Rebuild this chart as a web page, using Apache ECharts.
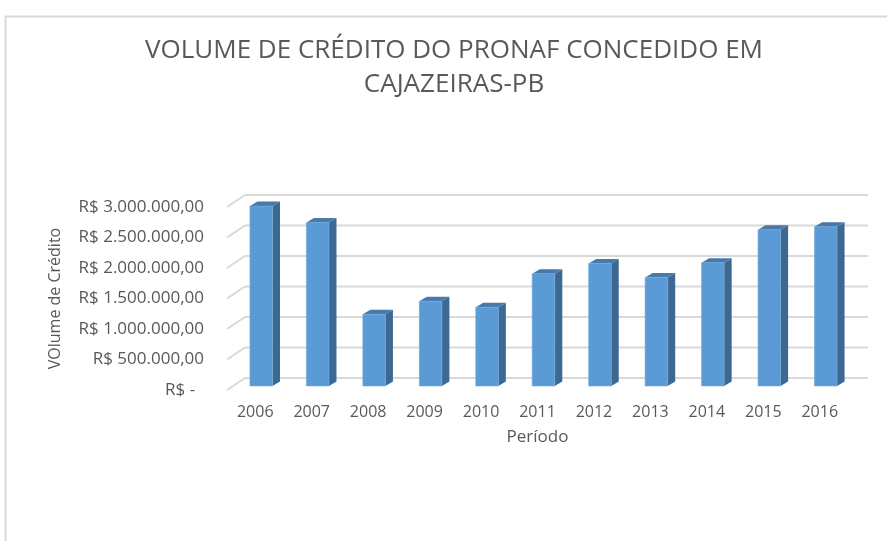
<!DOCTYPE html>
<html>
<head>
<meta charset="utf-8">
<script src="https://cdn.jsdelivr.net/npm/echarts@6/dist/echarts.min.js"></script>
<style>
	html, body { margin: 0; padding: 0; background: #fff; }
	#chart { width: 887px; height: 541px; }
</style>
</head>
<body>
<div id="chart"></div>
<script>
var anos = ['2006', '2007', '2008', '2009', '2010', '2011', '2012', '2013', '2014', '2015', '2016'];
var volume = [2950000, 2680000, 1175000, 1390000, 1290000, 1840000, 2010000, 1780000, 2020000, 2560000, 2610000];
var yTicks = [0, 500000, 1000000, 1500000, 2000000, 2500000, 3000000];
var yTickLabels = ['R$ -  ', 'R$ 500.000,00', 'R$ 1.000.000,00', 'R$ 1.500.000,00',
	'R$ 2.000.000,00', 'R$ 2.500.000,00', 'R$ 3.000.000,00'];

window.onload = function () {
	"use strict";
	var chart = echarts.init(document.getElementById('chart'));

	var textColor = '#595959';
	var gridColor = '#D9D9D9';
	var wallDx = 18, wallDy = -12;   // profundidade da parede de fundo
	var barDx = 6, barDy = -4;       // plano frontal das barras
	var sideDx = 7.5, sideDy = -4.5; // espessura das barras

	// linhas de grade "3D": diagonal na lateral + horizontal ao fundo
	function renderWall(params, api) {
		var p = api.coord([0, api.value(1)]);
		var bw = api.size([1, 0])[0];
		var left = p[0] - bw / 2;
		var right = left + bw * anos.length;
		var y = p[1];
		var style = { stroke: gridColor, lineWidth: 2 };
		return {
			type: 'group',
			children: [{
				type: 'line',
				shape: { x1: left, y1: y, x2: left + wallDx, y2: y + wallDy },
				style: style
			}, {
				type: 'line',
				shape: { x1: left + wallDx, y1: y + wallDy, x2: right + wallDx + 2, y2: y + wallDy },
				style: style
			}]
		};
	}

	function renderBar(params, api) {
		var i = api.value(0);
		var top = api.coord([i, api.value(1)]);
		var bottom = api.coord([i, 0]);
		var bw = api.size([1, 0])[0];
		var w = bw * 0.4;
		var xl = top[0] - w / 2 + barDx;
		var xr = xl + w;
		var yt = top[1] + barDy;
		var yb = bottom[1] + barDy;
		return {
			type: 'group',
			children: [{
				type: 'polygon',
				shape: { points: [[xr, yt], [xr + sideDx, yt + sideDy], [xr + sideDx, yb + sideDy], [xr, yb]] },
				style: { fill: '#3C6891' }
			}, {
				type: 'polygon',
				shape: { points: [[xl, yt], [xl + sideDx, yt + sideDy], [xr + sideDx, yt + sideDy], [xr, yt]] },
				style: { fill: '#4779AB' }
			}, {
				type: 'rect',
				shape: { x: xl, y: yt, width: w, height: yb - yt },
				style: { fill: '#5B9BD5', stroke: '#6FA8DC', lineWidth: 0.6 }
			}]
		};
	}

	var option = {
		animation: false,
		title: {
			text: 'VOLUME DE CRÉDITO DO PRONAF CONCEDIDO EM\nCAJAZEIRAS-PB',
			left: 449,
			top: 29,
			textAlign: 'center',
			textStyle: {
				fontFamily: 'Open Sans',
				fontSize: 26,
				fontWeight: 'normal',
				lineHeight: 34,
				color: textColor
			}
		},
		graphic: [{
			type: 'line',
			shape: { x1: 5, y1: 16.5, x2: 887, y2: 16.5 },
			style: { stroke: gridColor, lineWidth: 2 }
		}, {
			type: 'line',
			shape: { x1: 5.5, y1: 16, x2: 5.5, y2: 541 },
			style: { stroke: gridColor, lineWidth: 2 }
		}],
		grid: {
			left: 227,
			right: 39,
			top: 207,
			bottom: 151
		},
		xAxis: {
			type: 'category',
			data: anos,
			name: 'Período',
			nameLocation: 'middle',
			nameGap: 39,
			nameTextStyle: { fontFamily: 'Open Sans', fontSize: 17, color: textColor },
			axisLine: { show: false },
			axisTick: { show: false },
			axisLabel: { margin: 14, fontFamily: 'Open Sans', fontSize: 16, color: textColor }
		},
		yAxis: {
			type: 'value',
			min: 0,
			max: 3000000,
			interval: 500000,
			name: 'VOlume de Crédito',
			nameLocation: 'middle',
			nameRotate: 90,
			nameGap: 164,
			nameTextStyle: { fontFamily: 'Open Sans', fontSize: 16, color: textColor },
			axisLine: { show: false },
			axisTick: { show: false },
			splitLine: { show: false },
			axisLabel: {
				margin: 23,
				fontFamily: 'Open Sans',
				fontSize: 17,
				color: textColor,
				formatter: function (v) {
					return yTickLabels[yTicks.indexOf(v)];
				}
			}
		},
		series: [{
			type: 'custom',
			silent: true,
			renderItem: renderWall,
			encode: { x: 0, y: 1 },
			data: yTicks.map(function (v) { return [0, v]; }),
			z: 1
		}, {
			type: 'custom',
			name: 'Volume de Crédito',
			renderItem: renderBar,
			encode: { x: 0, y: 1 },
			data: volume.map(function (v, i) { return [i, v]; }),
			z: 2
		}]
	};

	chart.setOption(option);
};
</script>
</body>
</html>
